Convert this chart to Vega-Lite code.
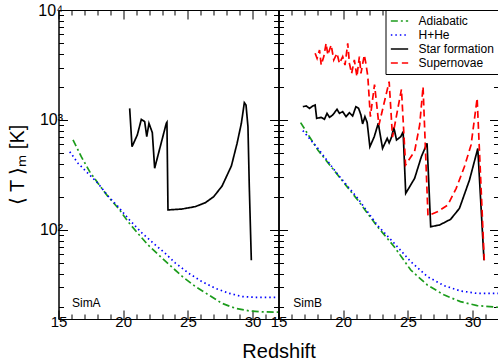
{
  "$schema": "https://vega.github.io/schema/vega-lite/v6.json",
  "background": "white",
  "padding": {"left": 6.5, "top": 1, "right": 0, "bottom": 0},
  "bounds": "flush",
  "spacing": 0,
  "config": {
    "font": "Liberation Sans",
    "axis": {"domainColor": "black", "tickColor": "black", "labelColor": "black", "titleColor": "black", "labelFont": "Liberation Sans", "titleFont": "Liberation Sans", "grid": false, "labelFontSize": 15, "titleFontSize": 20, "titleFontWeight": "normal", "tickWidth": 1, "domainWidth": 1},
    "view": {"stroke": "black", "strokeWidth": 1},
    "legend": {"labelFont": "Liberation Sans", "labelFontSize": 12, "labelColor": "black"}
  },
  "datasets": {
    "curves": [
      {"p": "A", "s": "Adiabatic", "z": 16.12, "T": 658}, {"p": "A", "s": "Adiabatic", "z": 16.76, "T": 464}, {"p": "A", "s": "Adiabatic", "z": 17.41, "T": 339}, {"p": "A", "s": "Adiabatic", "z": 18.05, "T": 266}, {"p": "A", "s": "Adiabatic", "z": 18.83, "T": 201}, {"p": "A", "s": "Adiabatic", "z": 19.73, "T": 152}, {"p": "A", "s": "Adiabatic", "z": 20.37, "T": 119}, {"p": "A", "s": "Adiabatic", "z": 21.14, "T": 93}, {"p": "A", "s": "Adiabatic", "z": 21.92, "T": 73}, {"p": "A", "s": "Adiabatic", "z": 22.82, "T": 58}, {"p": "A", "s": "Adiabatic", "z": 23.5, "T": 49}, {"p": "A", "s": "Adiabatic", "z": 24.54, "T": 38}, {"p": "A", "s": "Adiabatic", "z": 25.57, "T": 30.6}, {"p": "A", "s": "Adiabatic", "z": 26.6, "T": 25.7}, {"p": "A", "s": "Adiabatic", "z": 27.64, "T": 21.5}, {"p": "A", "s": "Adiabatic", "z": 28.66, "T": 19.4}, {"p": "A", "s": "Adiabatic", "z": 29.7, "T": 18.4}, {"p": "A", "s": "Adiabatic", "z": 30.73, "T": 18}, {"p": "A", "s": "Adiabatic", "z": 32, "T": 17.9},
      {"p": "A", "s": "H+He", "z": 15.87, "T": 515}, {"p": "A", "s": "H+He", "z": 16.51, "T": 404}, {"p": "A", "s": "H+He", "z": 17.28, "T": 327}, {"p": "A", "s": "H+He", "z": 18.05, "T": 266}, {"p": "A", "s": "H+He", "z": 18.8, "T": 205}, {"p": "A", "s": "H+He", "z": 19.6, "T": 163}, {"p": "A", "s": "H+He", "z": 20.5, "T": 123}, {"p": "A", "s": "H+He", "z": 21.4, "T": 95}, {"p": "A", "s": "H+He", "z": 22.43, "T": 74}, {"p": "A", "s": "H+He", "z": 23.2, "T": 62}, {"p": "A", "s": "H+He", "z": 24.03, "T": 50}, {"p": "A", "s": "H+He", "z": 25.06, "T": 40.4}, {"p": "A", "s": "H+He", "z": 26.09, "T": 33.9}, {"p": "A", "s": "H+He", "z": 27.12, "T": 29.5}, {"p": "A", "s": "H+He", "z": 28.15, "T": 26.6}, {"p": "A", "s": "H+He", "z": 29.18, "T": 24.8}, {"p": "A", "s": "H+He", "z": 30.2, "T": 24.4}, {"p": "A", "s": "H+He", "z": 32, "T": 24.4},
      {"p": "A", "s": "Star formation", "z": 20.5, "T": 1276}, {"p": "A", "s": "Star formation", "z": 20.68, "T": 571}, {"p": "A", "s": "Star formation", "z": 21.09, "T": 731}, {"p": "A", "s": "Star formation", "z": 21.4, "T": 1013}, {"p": "A", "s": "Star formation", "z": 21.66, "T": 966}, {"p": "A", "s": "Star formation", "z": 21.82, "T": 705}, {"p": "A", "s": "Star formation", "z": 21.99, "T": 933}, {"p": "A", "s": "Star formation", "z": 22.25, "T": 767}, {"p": "A", "s": "Star formation", "z": 22.43, "T": 364}, {"p": "A", "s": "Star formation", "z": 23.33, "T": 933}, {"p": "A", "s": "Star formation", "z": 23.38, "T": 953}, {"p": "A", "s": "Star formation", "z": 23.46, "T": 152}, {"p": "A", "s": "Star formation", "z": 24.54, "T": 155}, {"p": "A", "s": "Star formation", "z": 25.57, "T": 163}, {"p": "A", "s": "Star formation", "z": 26.35, "T": 177}, {"p": "A", "s": "Star formation", "z": 27.0, "T": 201}, {"p": "A", "s": "Star formation", "z": 27.64, "T": 251}, {"p": "A", "s": "Star formation", "z": 28.36, "T": 382}, {"p": "A", "s": "Star formation", "z": 28.8, "T": 614}, {"p": "A", "s": "Star formation", "z": 29.13, "T": 933}, {"p": "A", "s": "Star formation", "z": 29.36, "T": 1436}, {"p": "A", "s": "Star formation", "z": 29.49, "T": 1368}, {"p": "A", "s": "Star formation", "z": 29.64, "T": 869}, {"p": "A", "s": "Star formation", "z": 29.74, "T": 256}, {"p": "A", "s": "Star formation", "z": 29.9, "T": 53},
      {"p": "B", "s": "Adiabatic", "z": 16.71, "T": 946}, {"p": "B", "s": "Adiabatic", "z": 18.04, "T": 533}, {"p": "B", "s": "Adiabatic", "z": 19.58, "T": 316}, {"p": "B", "s": "Adiabatic", "z": 21.12, "T": 187}, {"p": "B", "s": "Adiabatic", "z": 22.65, "T": 107}, {"p": "B", "s": "Adiabatic", "z": 23.94, "T": 70.5}, {"p": "B", "s": "Adiabatic", "z": 25.22, "T": 43.2}, {"p": "B", "s": "Adiabatic", "z": 26.5, "T": 31.6}, {"p": "B", "s": "Adiabatic", "z": 27.78, "T": 25.7}, {"p": "B", "s": "Adiabatic", "z": 29.06, "T": 22.3}, {"p": "B", "s": "Adiabatic", "z": 30.35, "T": 20.5}, {"p": "B", "s": "Adiabatic", "z": 32, "T": 19.8},
      {"p": "B", "s": "H+He", "z": 16.88, "T": 800}, {"p": "B", "s": "H+He", "z": 18.04, "T": 552}, {"p": "B", "s": "H+He", "z": 19.58, "T": 320}, {"p": "B", "s": "H+He", "z": 21.12, "T": 194}, {"p": "B", "s": "H+He", "z": 22.65, "T": 110}, {"p": "B", "s": "H+He", "z": 23.94, "T": 75.7}, {"p": "B", "s": "H+He", "z": 25.22, "T": 51.5}, {"p": "B", "s": "H+He", "z": 26.5, "T": 37.7}, {"p": "B", "s": "H+He", "z": 27.78, "T": 31.2}, {"p": "B", "s": "H+He", "z": 29.06, "T": 27.9}, {"p": "B", "s": "H+He", "z": 30.35, "T": 26.5}, {"p": "B", "s": "H+He", "z": 32, "T": 26.5},
      {"p": "B", "s": "Star formation", "z": 16.88, "T": 1321}, {"p": "B", "s": "Star formation", "z": 17.14, "T": 1340}, {"p": "B", "s": "Star formation", "z": 17.4, "T": 1276}, {"p": "B", "s": "Star formation", "z": 17.65, "T": 1340}, {"p": "B", "s": "Star formation", "z": 17.83, "T": 1368}, {"p": "B", "s": "Star formation", "z": 17.95, "T": 1034}, {"p": "B", "s": "Star formation", "z": 18.3, "T": 1057}, {"p": "B", "s": "Star formation", "z": 18.55, "T": 1014}, {"p": "B", "s": "Star formation", "z": 18.75, "T": 1148}, {"p": "B", "s": "Star formation", "z": 18.94, "T": 1057}, {"p": "B", "s": "Star formation", "z": 19.19, "T": 1110}, {"p": "B", "s": "Star formation", "z": 19.52, "T": 1250}, {"p": "B", "s": "Star formation", "z": 19.71, "T": 1148}, {"p": "B", "s": "Star formation", "z": 19.96, "T": 1192}, {"p": "B", "s": "Star formation", "z": 20.22, "T": 1072}, {"p": "B", "s": "Star formation", "z": 20.48, "T": 1164}, {"p": "B", "s": "Star formation", "z": 20.73, "T": 1086}, {"p": "B", "s": "Star formation", "z": 20.98, "T": 1321}, {"p": "B", "s": "Star formation", "z": 21.19, "T": 1276}, {"p": "B", "s": "Star formation", "z": 21.37, "T": 1110}, {"p": "B", "s": "Star formation", "z": 21.5, "T": 920}, {"p": "B", "s": "Star formation", "z": 21.68, "T": 1072}, {"p": "B", "s": "Star formation", "z": 21.85, "T": 950}, {"p": "B", "s": "Star formation", "z": 22.06, "T": 571}, {"p": "B", "s": "Star formation", "z": 22.4, "T": 705}, {"p": "B", "s": "Star formation", "z": 22.71, "T": 933}, {"p": "B", "s": "Star formation", "z": 23.04, "T": 552}, {"p": "B", "s": "Star formation", "z": 23.4, "T": 680}, {"p": "B", "s": "Star formation", "z": 23.55, "T": 620}, {"p": "B", "s": "Star formation", "z": 23.73, "T": 695}, {"p": "B", "s": "Star formation", "z": 23.91, "T": 857}, {"p": "B", "s": "Star formation", "z": 24.12, "T": 658}, {"p": "B", "s": "Star formation", "z": 24.45, "T": 705}, {"p": "B", "s": "Star formation", "z": 24.63, "T": 783}, {"p": "B", "s": "Star formation", "z": 24.83, "T": 215}, {"p": "B", "s": "Star formation", "z": 25.52, "T": 295}, {"p": "B", "s": "Star formation", "z": 26.04, "T": 464}, {"p": "B", "s": "Star formation", "z": 26.48, "T": 614}, {"p": "B", "s": "Star formation", "z": 26.76, "T": 107}, {"p": "B", "s": "Star formation", "z": 27.45, "T": 111}, {"p": "B", "s": "Star formation", "z": 28.3, "T": 125}, {"p": "B", "s": "Star formation", "z": 28.98, "T": 157}, {"p": "B", "s": "Star formation", "z": 29.76, "T": 285}, {"p": "B", "s": "Star formation", "z": 30.4, "T": 550}, {"p": "B", "s": "Star formation", "z": 30.88, "T": 53},
      {"p": "B", "s": "Supernovae", "z": 17.83, "T": 4040}, {"p": "B", "s": "Supernovae", "z": 17.98, "T": 3630}, {"p": "B", "s": "Supernovae", "z": 18.17, "T": 4330}, {"p": "B", "s": "Supernovae", "z": 18.3, "T": 3160}, {"p": "B", "s": "Supernovae", "z": 18.5, "T": 3770}, {"p": "B", "s": "Supernovae", "z": 18.68, "T": 4980}, {"p": "B", "s": "Supernovae", "z": 18.81, "T": 3900}, {"p": "B", "s": "Supernovae", "z": 19.07, "T": 4810}, {"p": "B", "s": "Supernovae", "z": 19.27, "T": 3510}, {"p": "B", "s": "Supernovae", "z": 19.52, "T": 4040}, {"p": "B", "s": "Supernovae", "z": 19.71, "T": 3270}, {"p": "B", "s": "Supernovae", "z": 19.96, "T": 3770}, {"p": "B", "s": "Supernovae", "z": 20.14, "T": 3160}, {"p": "B", "s": "Supernovae", "z": 20.35, "T": 4980}, {"p": "B", "s": "Supernovae", "z": 20.48, "T": 3270}, {"p": "B", "s": "Supernovae", "z": 20.65, "T": 2650}, {"p": "B", "s": "Supernovae", "z": 20.86, "T": 3510}, {"p": "B", "s": "Supernovae", "z": 21.06, "T": 2480}, {"p": "B", "s": "Supernovae", "z": 21.25, "T": 3770}, {"p": "B", "s": "Supernovae", "z": 21.37, "T": 2650}, {"p": "B", "s": "Supernovae", "z": 21.63, "T": 3900}, {"p": "B", "s": "Supernovae", "z": 21.75, "T": 3270}, {"p": "B", "s": "Supernovae", "z": 21.9, "T": 2500}, {"p": "B", "s": "Supernovae", "z": 22.1, "T": 1072}, {"p": "B", "s": "Supernovae", "z": 22.42, "T": 2100}, {"p": "B", "s": "Supernovae", "z": 22.76, "T": 900}, {"p": "B", "s": "Supernovae", "z": 23.55, "T": 2230}, {"p": "B", "s": "Supernovae", "z": 23.81, "T": 700}, {"p": "B", "s": "Supernovae", "z": 24.5, "T": 1900}, {"p": "B", "s": "Supernovae", "z": 24.82, "T": 390}, {"p": "B", "s": "Supernovae", "z": 25.52, "T": 520}, {"p": "B", "s": "Supernovae", "z": 25.91, "T": 901}, {"p": "B", "s": "Supernovae", "z": 26.17, "T": 2010}, {"p": "B", "s": "Supernovae", "z": 26.55, "T": 135}, {"p": "B", "s": "Supernovae", "z": 27.32, "T": 147}, {"p": "B", "s": "Supernovae", "z": 28.09, "T": 169}, {"p": "B", "s": "Supernovae", "z": 28.73, "T": 239}, {"p": "B", "s": "Supernovae", "z": 29.37, "T": 377}, {"p": "B", "s": "Supernovae", "z": 29.88, "T": 593}, {"p": "B", "s": "Supernovae", "z": 30.35, "T": 1574}, {"p": "B", "s": "Supernovae", "z": 30.9, "T": 53}
    ]
  },
  "resolve": {"scale": {"color": "independent", "strokeDash": "independent"}, "legend": {"color": "independent", "strokeDash": "independent"}},
  "hconcat": [
    {
      "width": 220, "height": 309,
      "layer": [
        {
          "data": {"name": "curves"},
          "transform": [{"filter": "datum.p == 'A'"}],
          "mark": {"type": "line", "strokeWidth": 1.7, "clip": true},
          "encoding": {
            "x": {"field": "z", "type": "quantitative", "scale": {"domain": [15, 32], "nice": false, "zero": false},
              "axis": {"orient": "bottom", "values": [15,16,17,18,19,20,21,22,23,24,25,26,27,28,29,30,31,32], "labelExpr": "datum.value % 5 === 0 ? datum.label : ''", "labelFlush": false, "labelOverlap": false, "labelPadding": 4, "tickSize": {"condition": {"test": "datum.value % 5 === 0", "value": -9}, "value": -5}, "title": "Redshift", "titleX": 220, "titleY": 38, "titleBaseline": "alphabetic", "titleAlign": "center"}},
            "y": {"field": "T", "type": "quantitative", "scale": {"type": "log", "domain": [15.5, 10000], "nice": false},
              "axis": {"orient": "left", "values": [20,30,40,50,60,70,80,90,100,200,300,400,500,600,700,800,900,1000,2000,3000,4000,5000,6000,7000,8000,9000,10000], "labelExpr": "datum.value == 100 ? '10²' : datum.value == 1000 ? '10³' : datum.value == 10000 ? '10⁴' : ''", "labelOverlap": false, "labelFlush": false, "labelFontSize": 16, "labelPadding": 5, "tickSize": {"condition": {"test": "datum.value == 100 || datum.value == 1000 || datum.value == 10000", "value": -9}, "value": -5}, "title": "⟨ T ⟩ₘ [K]", "titlePadding": 10}},
            "color": {"field": "s", "type": "nominal", "scale": {"domain": ["Adiabatic", "H+He", "Star formation", "Supernovae"], "range": ["#1c9c1c", "#0000ff", "#000000", "#ff0000"]}, "legend": null},
            "strokeDash": {"field": "s", "type": "nominal", "scale": {"domain": ["Adiabatic", "H+He", "Star formation", "Supernovae"], "range": [[7, 3, 2, 3], [1.5, 3], [1, 0], [7, 4]]}, "legend": null}
          }
        },
        {
          "data": {"name": "curves"},
          "transform": [{"filter": "datum.p == 'A'"}],
          "mark": {"type": "point", "opacity": 0},
          "encoding": {
            "x": {"field": "z", "type": "quantitative", "axis": {"orient": "top", "values": [15,16,17,18,19,20,21,22,23,24,25,26,27,28,29,30,31,32], "labels": false, "tickSize": {"condition": {"test": "datum.value % 5 === 0", "value": -9}, "value": -5}, "title": null}},
            "y": {"field": "T", "type": "quantitative", "axis": {"orient": "right", "values": [20,30,40,50,60,70,80,90,100,200,300,400,500,600,700,800,900,1000,2000,3000,4000,5000,6000,7000,8000,9000,10000], "labels": false, "tickSize": {"condition": {"test": "datum.value == 100 || datum.value == 1000 || datum.value == 10000", "value": -9}, "value": -5}, "title": null}}
          }
        },
        {
          "data": {"values": [{"lab": "SimA"}]},
          "mark": {"type": "text", "align": "left", "baseline": "alphabetic", "fontSize": 12, "font": "Liberation Sans", "color": "black"},
          "encoding": {
            "x": {"datum": 16.04, "type": "quantitative", "axis": null},
            "y": {"datum": 20, "type": "quantitative", "axis": null},
            "text": {"field": "lab"}
          }
        }
      ],
      "resolve": {"axis": {"x": "independent", "y": "independent"}}
    },
    {
      "width": 220, "height": 309,
      "layer": [
        {
          "data": {"name": "curves"},
          "transform": [{"filter": "datum.p == 'B'"}],
          "mark": {"type": "line", "strokeWidth": 1.7, "clip": true},
          "encoding": {
            "x": {"field": "z", "type": "quantitative", "scale": {"domain": [15, 32], "nice": false, "zero": false},
              "axis": {"orient": "bottom", "values": [15,16,17,18,19,20,21,22,23,24,25,26,27,28,29,30,31,32], "labelExpr": "datum.value % 5 === 0 ? datum.label : ''", "labelFlush": false, "labelOverlap": false, "labelPadding": 4, "tickSize": {"condition": {"test": "datum.value % 5 === 0", "value": -9}, "value": -5}, "title": null}},
            "y": {"field": "T", "type": "quantitative", "scale": {"type": "log", "domain": [15.5, 10000], "nice": false},
              "axis": {"orient": "left", "values": [20,30,40,50,60,70,80,90,100,200,300,400,500,600,700,800,900,1000,2000,3000,4000,5000,6000,7000,8000,9000,10000], "labels": false, "tickSize": {"condition": {"test": "datum.value == 100 || datum.value == 1000 || datum.value == 10000", "value": -9}, "value": -5}, "title": null}},
            "color": {"field": "s", "type": "nominal", "scale": {"domain": ["Adiabatic", "H+He", "Star formation", "Supernovae"], "range": ["#1c9c1c", "#0000ff", "#000000", "#ff0000"]},
              "legend": {"title": null, "orient": "top-right", "offset": 0, "strokeColor": "black", "fillColor": "white", "padding": 4, "symbolType": "stroke", "symbolSize": 300, "symbolStrokeWidth": 1.7, "clipHeight": 14, "rowPadding": 0, "labelOffset": 9, "labelLimit": 200}},
            "strokeDash": {"field": "s", "type": "nominal", "scale": {"domain": ["Adiabatic", "H+He", "Star formation", "Supernovae"], "range": [[7, 3, 2, 3], [1.5, 3], [1, 0], [7, 4]]},
              "legend": {"title": null, "orient": "top-right", "offset": 0, "strokeColor": "black", "fillColor": "white", "padding": 4, "symbolType": "stroke", "symbolSize": 300, "symbolStrokeWidth": 1.7, "clipHeight": 14, "rowPadding": 0, "labelOffset": 9, "labelLimit": 200}}
          }
        },
        {
          "data": {"name": "curves"},
          "transform": [{"filter": "datum.p == 'B'"}],
          "mark": {"type": "point", "opacity": 0},
          "encoding": {
            "x": {"field": "z", "type": "quantitative", "axis": {"orient": "top", "values": [15,16,17,18,19,20,21,22,23,24,25,26,27,28,29,30,31,32], "labels": false, "tickSize": {"condition": {"test": "datum.value % 5 === 0", "value": -9}, "value": -5}, "title": null}},
            "y": {"field": "T", "type": "quantitative", "axis": {"orient": "right", "values": [20,30,40,50,60,70,80,90,100,200,300,400,500,600,700,800,900,1000,2000,3000,4000,5000,6000,7000,8000,9000,10000], "labels": false, "tickSize": {"condition": {"test": "datum.value == 100 || datum.value == 1000 || datum.value == 10000", "value": -9}, "value": -5}, "title": null}}
          }
        },
        {
          "data": {"values": [{"lab": "SimB"}]},
          "mark": {"type": "text", "align": "left", "baseline": "alphabetic", "fontSize": 12, "font": "Liberation Sans", "color": "black"},
          "encoding": {
            "x": {"datum": 16.14, "type": "quantitative", "axis": null},
            "y": {"datum": 20, "type": "quantitative", "axis": null},
            "text": {"field": "lab"}
          }
        }
      ],
      "resolve": {"axis": {"x": "independent", "y": "independent"}}
    }
  ]
}
